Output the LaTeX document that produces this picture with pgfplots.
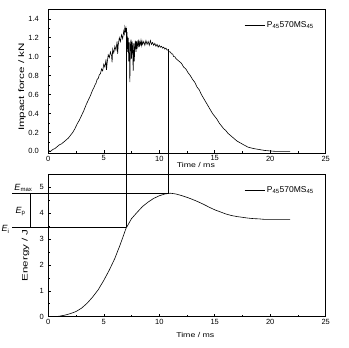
\documentclass[border=0pt]{standalone}
\usepackage{pgfplots}
\pgfplotsset{compat=1.18}
\usepackage{fontspec}
\setmainfont{Liberation Sans}
\newfontfamily\xlabfont{Liberation Sans}[FakeStretch=1.25]
\newfontfamily\ylabfont{Liberation Sans}[FakeStretch=1.45]
\pgfplotsset{
  common/.style={
    scale only axis, width=277.4pt,
    xmin=0, xmax=25, xtick={0,5,10,15,20,25},
    minor x tick num=1, minor y tick num=1,
    tick align=inside, xtick pos=bottom, ytick pos=left,
    major tick length=3pt, minor tick length=1.8pt,
    tick style={black, line width=0.5pt},
    axis line style={line width=0.6pt},
    /pgf/number format/assume math mode=true,
    tick label style={font=\fontsize{7.5}{8}\selectfont},
    xticklabel style={yshift=1pt},
    clip=false,
    legend style={draw=none, fill=none, font=\fontsize{8.5}{9}\selectfont, at={(0.965,0.93)}, anchor=north east, inner sep=0pt},
    legend cell align=left,
    legend image code/.code={\draw[black, line width=0.5pt] (0pt,0pt) -- (20pt,0pt);},
  }
}
\begin{document}
\begin{tikzpicture}
\path[use as bounding box] (0,0) rectangle (349pt,348pt);
% top axis
\begin{axis}[common, at={(48.3pt,194.7pt)}, anchor=south west, height=144pt,
  ymin=-0.02, ymax=1.5, ytick={0,0.2,...,1.4},
  /pgf/number format/fixed, /pgf/number format/fixed zerofill, /pgf/number format/precision=1,
  yticklabel style={xshift=-6pt},
  xlabel={\xlabfont\fontsize{7}{8}\selectfont Time / ms},
  xlabel style={at={(axis description cs:0.532,-0.081)}, anchor=center},
  ylabel={\ylabfont\fontsize{8}{9}\selectfont Impact force / kN},
  ylabel style={at={(axis description cs:-0.095,0.46)}, anchor=center},
  xticklabel={\pgfmathprintnumber[precision=0,fixed zerofill=false]{\tick}},
]
\addplot[black, line width=0.6pt] coordinates {
(0.0,0.01)(0.2,0.00)(0.4,0.02)(0.6,0.03)(0.8,0.05)(1.0,0.07)(1.2,0.08)(1.4,0.10)(1.6,0.12)(1.8,0.14)
(2.0,0.17)(2.2,0.20)(2.4,0.24)(2.6,0.29)(2.8,0.33)(3.0,0.38)(3.2,0.43)(3.4,0.49)(3.6,0.54)(3.8,0.59)
(4.0,0.65)(4.1,0.67)(4.2,0.70)(4.3,0.72)(4.4,0.76)(4.5,0.77)(4.6,0.81)(4.7,0.82)(4.8,0.87)(4.9,0.85)
(5.0,0.92)(5.1,0.89)(5.2,0.97)(5.25,0.86)(5.3,0.93)(5.4,1.02)(5.5,0.99)(5.6,1.05)(5.7,1.01)(5.75,0.94)
(5.8,1.08)(5.9,1.04)(6.0,1.11)(6.1,1.07)(6.2,1.16)(6.25,1.03)(6.3,1.12)(6.4,1.20)(6.5,1.16)(6.6,1.23)
(6.7,1.19)(6.8,1.27)(6.85,1.24)(6.9,1.31)(6.95,1.27)(7.0,1.30)(7.05,1.22)(7.1,1.26)
(7.15,1.05)(7.2,1.20)(7.25,0.95)(7.3,1.15)(7.35,0.73)(7.4,1.12)(7.45,1.18)(7.5,0.98)(7.55,1.16)(7.6,1.10)
(7.65,0.85)(7.7,1.14)(7.75,0.95)(7.8,1.12)(7.85,1.17)(7.9,1.05)(7.95,1.16)(8.0,1.08)(8.05,1.15)(8.1,1.12)
(8.15,1.18)(8.2,1.10)(8.25,1.15)(8.3,1.13)(8.35,1.17)(8.4,1.12)(8.45,1.16)(8.5,1.13)(8.6,1.16)(8.7,1.12)
(8.8,1.17)(8.9,1.13)(9.0,1.16)(9.1,1.12)(9.2,1.17)(9.3,1.13)(9.4,1.15)(9.5,1.12)(9.6,1.14)(9.7,1.11)
(9.8,1.13)(9.9,1.10)(10.0,1.12)(10.1,1.10)(10.2,1.11)(10.3,1.09)(10.4,1.10)(10.5,1.08)(10.6,1.09)(10.7,1.07)
(10.8,1.07)(10.9,1.05)(11.0,1.05)(11.1,1.03)(11.2,1.03)(11.3,1.00)(11.4,1.00)(11.5,0.98)(11.6,0.97)(11.8,0.95)
(12.0,0.93)(12.2,0.89)(12.4,0.87)(12.6,0.83)(12.8,0.80)(13.0,0.76)(13.2,0.73)(13.4,0.68)(13.6,0.65)(13.8,0.60)
(14.0,0.56)(14.2,0.52)(14.4,0.48)(14.6,0.44)(14.8,0.40)(15.0,0.37)(15.2,0.34)(15.4,0.30)(15.6,0.27)(15.8,0.24)
(16.0,0.22)(16.2,0.19)(16.4,0.17)(16.6,0.15)(16.8,0.13)(17.0,0.11)(17.3,0.09)(17.6,0.07)(18.0,0.045)(18.5,0.03)
(19.0,0.02)(19.5,0.01)(20.0,0.005)(20.5,0.0)(21.0,0.0)(21.8,0.0)
};
\addlegendentry{P\textsubscript{45}570MS\textsubscript{45}}
\coordinate (A1) at (axis cs:7,1.30);
\coordinate (A2) at (axis cs:10.8,1.08);
\end{axis}
% bottom axis
\begin{axis}[common, at={(48.3pt,31.3pt)}, anchor=south west, height=142.7pt,
  ymin=0, ymax=5.5, ytick={0,1,...,5},
  yticklabel style={xshift=-1pt},
  xlabel={\xlabfont\fontsize{7}{8}\selectfont Time / ms},
  xlabel style={at={(axis description cs:0.53,-0.128)}, anchor=center},
  ylabel={\ylabfont\fontsize{8}{9}\selectfont Energy / J},
  ylabel style={at={(axis description cs:-0.082,0.43)}, anchor=center},
]
\addplot[black, line width=0.6pt] coordinates {
(0.6,0)(1.0,0.02)(1.5,0.06)(2.0,0.12)(2.5,0.2)(3.0,0.33)(3.5,0.52)(4.0,0.76)(4.5,1.04)(5.0,1.4)
(5.5,1.8)(6.0,2.25)(6.5,2.8)(7.0,3.4)(7.5,3.78)(8.0,4.02)(8.5,4.25)(9.0,4.42)(9.5,4.56)(10.0,4.66)
(10.5,4.73)(11.0,4.76)(11.5,4.73)(12.0,4.67)(12.5,4.6)(13.0,4.52)(13.5,4.43)(14.0,4.33)(14.5,4.22)(15.0,4.12)
(15.5,4.04)(16.0,3.96)(16.5,3.9)(17.0,3.86)(17.5,3.83)(18.0,3.8)(18.5,3.78)(19.0,3.77)(19.5,3.75)(20.0,3.75)
(21.0,3.75)(21.8,3.75)
};
\addlegendentry{P\textsubscript{45}570MS\textsubscript{45}}
\coordinate (B1) at (axis cs:7,3.446);
\coordinate (B2) at (axis cs:10.8,4.757);
\draw[line width=0.5pt] (axis cs:-3.27,4.757) -- (axis cs:10.9,4.757);
\draw[line width=0.5pt] (axis cs:-3.27,3.446) -- (axis cs:7,3.446);
\draw[line width=0.5pt] (axis cs:-1.65,3.446) -- (axis cs:-1.65,4.757);
\node[font=\fontsize{9}{10}\selectfont] at (axis cs:-2.24,4.97) {\textit{E}\textsubscript{max}};
\node[font=\fontsize{9}{10}\selectfont] at (axis cs:-2.5,4.05) {\textit{E}\textsubscript{p}};
\node[font=\fontsize{9}{10}\selectfont] at (axis cs:-3.85,3.36) {\textit{E}\textsubscript{i}};
\end{axis}
\draw[line width=0.5pt] (A1) -- (B1);
\draw[line width=0.5pt] (A2) -- (B2);
\end{tikzpicture}
\end{document}
